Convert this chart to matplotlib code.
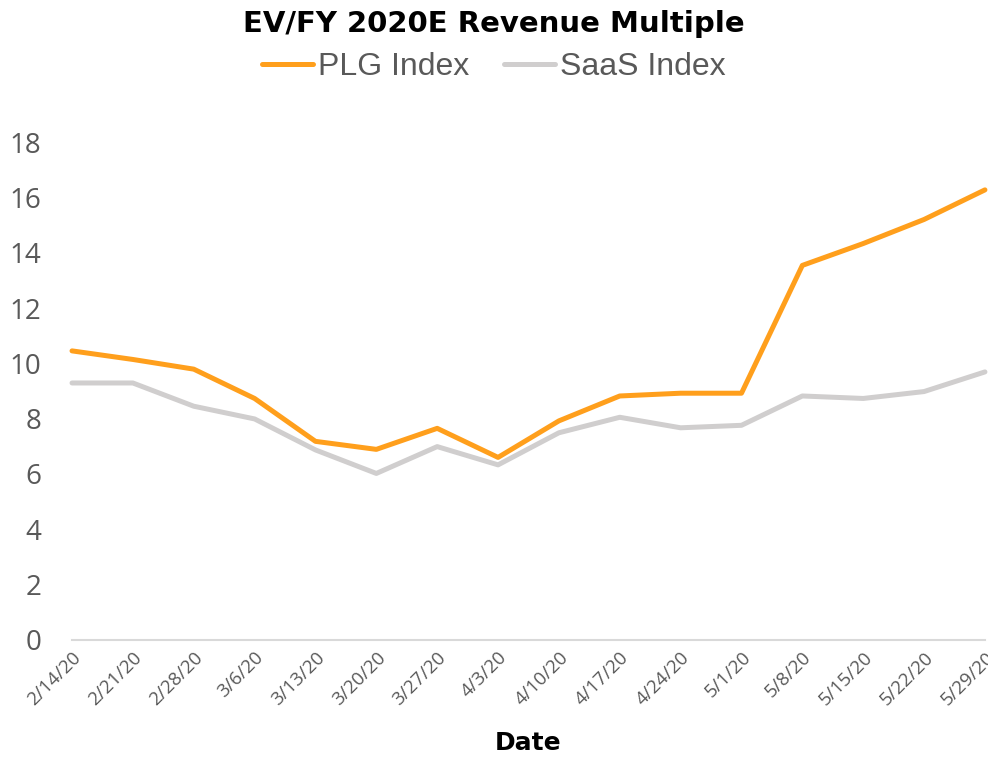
import matplotlib.pyplot as plt

dates = ['2/14/20', '2/21/20', '2/28/20', '3/6/20', '3/13/20', '3/20/20', '3/27/20', '4/3/20',
         '4/10/20', '4/17/20', '4/24/20', '5/1/20', '5/8/20', '5/15/20', '5/22/20', '5/29/20']
plg = [10.45, 10.14, 9.79, 8.73, 7.18, 6.89, 7.65, 6.6,
       7.92, 8.82, 8.92, 8.92, 13.54, 14.33, 15.2, 16.27]
saas = [9.29, 9.29, 8.45, 7.99, 6.87, 6.02, 6.99, 6.33,
        7.49, 8.05, 7.67, 7.76, 8.82, 8.73, 8.98, 9.69]

grey_txt = '#595959'

fig = plt.figure(figsize=(9.88, 7.59), dpi=100)
ax = fig.add_axes([0.0729, 0.1568, 0.924, 0.6561])

x = list(range(len(dates)))
ax.plot(x, plg, color='#FF9F1C', lw=3.6, solid_capstyle='round', solid_joinstyle='round',
        label='PLG Index', clip_on=False, zorder=3)
ax.plot(x, saas, color='#D0CECE', lw=3.6, solid_capstyle='round', solid_joinstyle='round',
        label='SaaS Index', clip_on=False, zorder=2)

ax.set_xlim(0, len(dates) - 1)
ax.set_ylim(0, 18)
ax.set_yticks(range(0, 19, 2))
ax.set_xticks(x)
ax.set_xticklabels(dates, rotation=45, ha='right', rotation_mode='anchor',
                   fontsize=13.5, color=grey_txt, family='Open Sans')
for lab in ax.get_yticklabels():
    lab.set_fontsize(20)
    lab.set_color(grey_txt)
    lab.set_family('Open Sans')

for s in ['top', 'right', 'left']:
    ax.spines[s].set_visible(False)
ax.spines['bottom'].set_color('#D9D9D9')
ax.spines['bottom'].set_linewidth(1.5)
ax.tick_params(axis='both', length=0)
ax.tick_params(axis='y', pad=22)
ax.tick_params(axis='x', pad=6)

ax.set_xlabel('Date', fontsize=18, fontweight='bold', family='DejaVu Sans', labelpad=16)

fig.text(0.5, 0.968, 'EV/FY 2020E Revenue Multiple', ha='center', va='center',
         fontsize=21, fontweight='bold', family='DejaVu Sans')

fig.legend(loc='center', bbox_to_anchor=(0.5, 0.912), ncol=2, frameon=False,
           prop={'family': 'Liberation Sans', 'size': 23},
           labelcolor=grey_txt, handlelength=1.6, handletextpad=0.15, columnspacing=1.1)

plt.savefig('out.png', dpi=100)
